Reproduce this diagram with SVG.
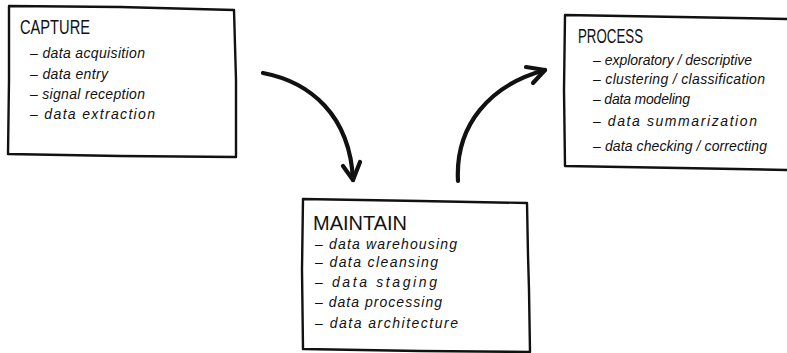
<svg xmlns="http://www.w3.org/2000/svg" width="787" height="353" viewBox="0 0 787 353">
  <style>
    .box { fill: none; stroke: #111; stroke-width: 2.4; stroke-linejoin: round; stroke-linecap: round; }
    .title { font-family: "Liberation Sans", Arial, sans-serif; font-size: 20px; fill: #111; }
    .item { font-family: "Liberation Sans", Arial, sans-serif; font-size: 14px; font-style: italic; fill: #111; }
    .arrow { fill: none; stroke: #111; stroke-width: 4.2; stroke-linecap: round; stroke-linejoin: round; }
  </style>
  <rect width="787" height="353" fill="#fff"/>

  <g id="capture">
    <path class="box" d="M9,6 L120,7 L234,10 L236,80 L236,157 L120,156 L8,154 L9,80 Z"/>
    <text class="title" x="20" y="34" textLength="70" lengthAdjust="spacingAndGlyphs">CAPTURE</text>
    <text class="item" x="30" y="58" textLength="115" lengthAdjust="spacing">– data acquisition</text>
    <text class="item" x="30" y="79" textLength="78" lengthAdjust="spacing">– data entry</text>
    <text class="item" x="30" y="99" textLength="115" lengthAdjust="spacing">– signal reception</text>
    <text class="item" x="30" y="119" textLength="125" lengthAdjust="spacing">– data extraction</text>
  </g>

  <g id="maintain">
    <path class="box" d="M303,199 L420,201 L527,203 L528,255 L529,290 L530,352 L420,351 L303,349 L302,270 Z"/>
    <text class="title" x="313" y="230" textLength="94" lengthAdjust="spacingAndGlyphs">MAINTAIN</text>
    <text class="item" x="315" y="249" textLength="142" lengthAdjust="spacing">– data warehousing</text>
    <text class="item" x="315" y="267" textLength="123" lengthAdjust="spacing">– data cleansing</text>
    <text class="item" x="315" y="287" textLength="122" lengthAdjust="spacing">– data staging</text>
    <text class="item" x="315" y="307" textLength="127" lengthAdjust="spacing">– data processing</text>
    <text class="item" x="315" y="328" textLength="143" lengthAdjust="spacing">– data architecture</text>
  </g>

  <g id="process">
    <path class="box" d="M789,19 L680,17 L565,15 L564,90 L565,166 L680,168 L789,170"/>
    <text class="title" x="578" y="43" textLength="65" lengthAdjust="spacingAndGlyphs">PROCESS</text>
    <text class="item" x="593" y="65" textLength="159" lengthAdjust="spacing">– exploratory / descriptive</text>
    <text class="item" x="593" y="84" textLength="172" lengthAdjust="spacing">– clustering / classification</text>
    <text class="item" x="593" y="104" textLength="97" lengthAdjust="spacing">– data modeling</text>
    <text class="item" x="593" y="126" textLength="164" lengthAdjust="spacing">– data summarization</text>
    <text class="item" x="593" y="151" textLength="174" lengthAdjust="spacing">– data checking / correcting</text>
  </g>

  <g id="connectors">
    <!-- capture to maintain -->
    <path class="arrow" d="M263,73 C310,82 350,115 353,180"/>
    <path class="arrow" d="M343,166 L353,180 L360,162"/>
    <!-- maintain to process -->
    <path class="arrow" d="M458,181 C455,125 490,85 545,70"/>
    <path class="arrow" d="M526,67 L545,70 L533,83"/>
  </g>
</svg>
